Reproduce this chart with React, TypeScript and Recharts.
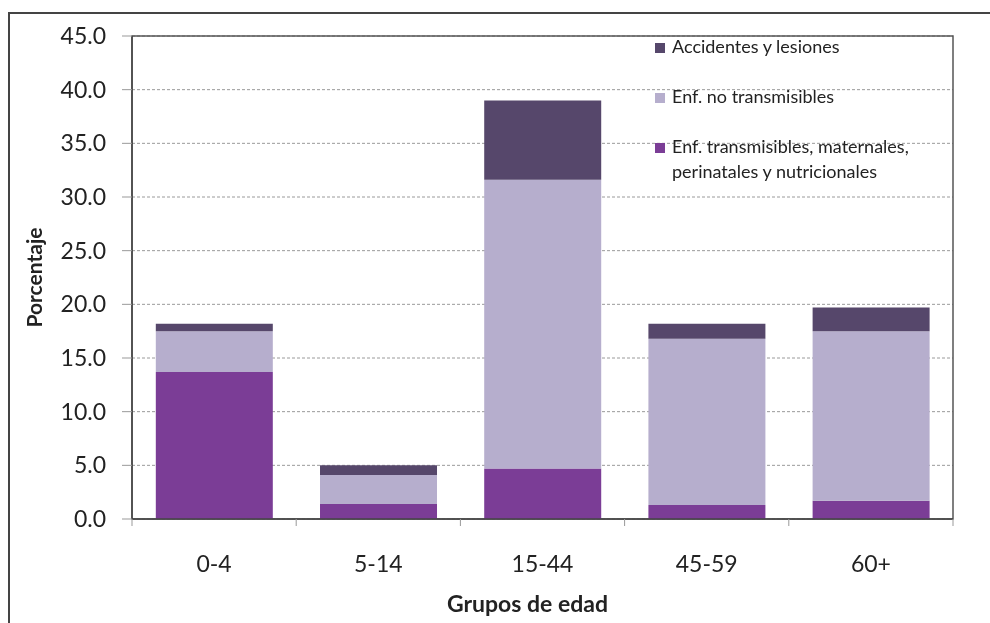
import { BarChart, Bar, XAxis, YAxis, CartesianGrid, ReferenceArea } from 'recharts';

const categories = ['0-4', '5-14', '15-44', '45-59', '60+'];
const transmisibles = [13.7, 1.4, 4.7, 1.3, 1.7];
const noTransmisibles = [3.8, 2.7, 26.9, 15.5, 15.8];
const accidentes = [0.7, 0.9, 7.4, 1.4, 2.2];
const yTicks = [0, 5, 10, 15, 20, 25, 30, 35, 40, 45];

const COLORS = {
    trans: '#7b3d96',
    noTrans: '#b6aecd',
    acc: '#56476b',
};

const data = categories.map((name, i) => ({
    name,
    trans: transmisibles[i],
    noTrans: noTransmisibles[i],
    acc: accidentes[i],
}));

const FONT = 'Lato, "Open Sans", sans-serif';

const legendItems = [
    { color: COLORS.acc, lines: ['Accidentes y lesiones'] },
    { color: COLORS.noTrans, lines: ['Enf. no transmisibles'] },
    { color: COLORS.trans, lines: ['Enf. transmisibles, maternales,', 'perinatales y nutricionales'] },
];

function XTick(props: any) {
    const { x, y, payload, index, visibleTicksCount } = props;
    const off = payload.offset || 0;
    return (
        <g>
            <line x1={x - off} x2={x - off} y1={y} y2={y + 7} stroke="#999" />
            {index === visibleTicksCount - 1 && (
                <line x1={x + off} x2={x + off} y1={y} y2={y + 7} stroke="#999" />
            )}
            <text x={x} y={y + 53} textAnchor="middle" fill="#222" fontSize={23} fontFamily={FONT}>
                {payload.value}
            </text>
        </g>
    );
}

function XTitle(props: any) {
    const vb = props.viewBox;
    return (
        <text x={vb.x + vb.width / 2 - 15} y={vb.y + vb.height - 8} textAnchor="middle" fill="#222"
            fontSize={23} fontWeight={700} fontFamily={FONT}>
            Grupos de edad
        </text>
    );
}

function YTitle(props: any) {
    const vb = props.viewBox;
    const cx = vb.x + 1;
    const cy = vb.y + vb.height / 2;
    return (
        <text x={cx} y={cy} transform={`rotate(-90 ${cx} ${cy})`} textAnchor="middle" dominantBaseline="central"
            fill="#222" fontSize={21} fontWeight={700} fontFamily={FONT}>
            Porcentaje
        </text>
    );
}

export default function App() {
    return (
        <div style={{ position: 'absolute', left: 0, top: 0, width: 990, height: 620, fontFamily: FONT }}>
            {/* outer frame, cut off at right and bottom like the source */}
            <div
                style={{
                    position: 'fixed', left: 8, top: 12, right: -20, bottom: -20,
                    borderTop: '2px solid #444', borderLeft: '2px solid #444',
                }}
            />
            <BarChart
                width={990}
                height={620}
                data={data}
                barCategoryGap="14.5%"
                margin={{ top: 36, right: 37, left: 32, bottom: 0 }}
            >
                <CartesianGrid vertical={false} stroke="#9a9a9a" strokeDasharray="3 2" />
                <XAxis
                    dataKey="name"
                    height={101}
                    tickLine={false}
                    tickSize={0}
                    tickMargin={0}
                    axisLine={{ stroke: '#444', strokeWidth: 1.5 }}
                    tick={<XTick />}
                    interval={0}
                    label={<XTitle />}
                />
                <YAxis
                    width={100}
                    domain={[0, 45]}
                    ticks={yTicks}
                    interval={0}
                    tickFormatter={(v: number) => v.toFixed(1)}
                    tick={{ fill: '#222', fontSize: 23, fontFamily: FONT }}
                    tickSize={10}
                    tickMargin={16}
                    tickLine={{ stroke: '#999' }}
                    axisLine={{ stroke: '#444', strokeWidth: 1.5 }}
                    label={<YTitle />}
                />
                <ReferenceArea x1="0-4" x2="60+" y1={0} y2={45} fill="none" stroke="#555" strokeWidth={1.5} />
                <Bar dataKey="trans" stackId="a" fill={COLORS.trans} isAnimationActive={false} />
                <Bar dataKey="noTrans" stackId="a" fill={COLORS.noTrans} isAnimationActive={false} />
                <Bar dataKey="acc" stackId="a" fill={COLORS.acc} isAnimationActive={false} />
            </BarChart>
            <div style={{ position: 'absolute', left: 655, top: 34, color: '#222', fontSize: 18 }}>
                {legendItems.map((item, i) => (
                    <div key={i} style={{ display: 'flex', alignItems: 'flex-start', marginBottom: 25 }}>
                        <div style={{ width: 10, height: 10, background: item.color, marginTop: 9, marginRight: 7, flexShrink: 0 }} />
                        <div style={{ lineHeight: '25px', whiteSpace: 'nowrap' }}>
                            {item.lines.map((l, j) => (
                                <div key={j}>{l}</div>
                            ))}
                        </div>
                    </div>
                ))}
            </div>
        </div>
    );
}
